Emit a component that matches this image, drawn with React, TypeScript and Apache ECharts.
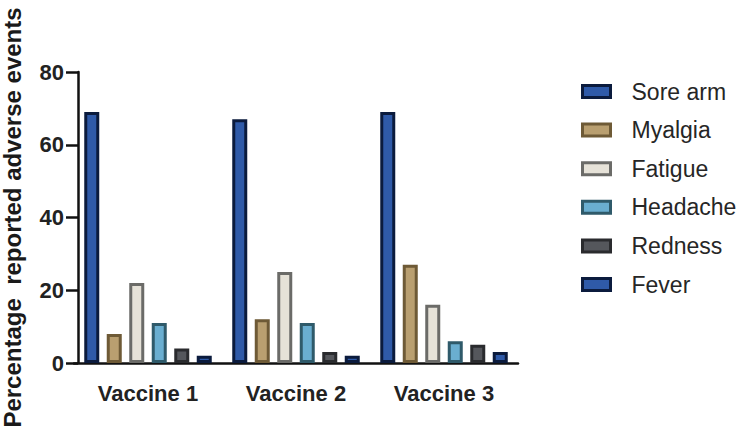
import React, { useEffect, useRef } from "react";
import * as echarts from "echarts";

const categories = ["Vaccine 1", "Vaccine 2", "Vaccine 3"];
const seriesNames = ["Sore arm", "Myalgia", "Fatigue", "Headache", "Redness", "Fever"];
const soreArm = [69, 67, 69];
const myalgia = [8, 12, 27];
const fatigue = [22, 25, 16];
const headache = [11, 11, 6];
const redness = [4, 3, 5];
const fever = [2, 2, 3];
const yTicks = [0, 20, 40, 60, 80];

const fills = ["#2f5aa8", "#b99f70", "#e6e2d8", "#6aaed0", "#55575c", "#2f5aa8"];
const borders = ["#0b1b3d", "#6e5a36", "#6b6b68", "#2f5a6a", "#2a2b2e", "#0b1b3d"];

const FONT = "'Liberation Sans', Arial, Helvetica, sans-serif";

export default function App() {
  const ref = useRef<HTMLDivElement>(null);
  useEffect(() => {
    if (!ref.current) return;
    const chart = echarts.init(ref.current, undefined, { renderer: "svg" });
    const values = [soreArm, myalgia, fatigue, headache, redness, fever];
    chart.setOption({
      animation: false,
      backgroundColor: "#ffffff",
      grid: {
        left: 74,
        top: 72,
        width: 444,
        height: 291,
        containLabel: false,
        outerBoundsMode: "none",
      },
      legend: {
        orient: "vertical",
        left: 576,
        top: 75,
        itemWidth: 28,
        itemHeight: 12,
        itemGap: 15.6,
        textStyle: {
          fontFamily: FONT,
          fontSize: 23,
          color: "#262626",
          padding: [0, 0, 0, 16],
          lineHeight: 20,
        },
        data: seriesNames.map((n, i) => ({
          name: n,
          icon: "rect",
          itemStyle: { color: fills[i], borderColor: borders[i], borderWidth: 3 },
        })),
      },
      xAxis: {
        type: "category",
        data: categories,
        axisLine: { lineStyle: { color: "#111", width: 2.5 } },
        axisTick: { alignWithLabel: true, length: 11, lineStyle: { color: "#111", width: 2.5 } },
        axisLabel: {
          fontFamily: FONT,
          fontSize: 22,
          fontWeight: "bold",
          color: "#222",
          margin: 19,
        },
      },
      yAxis: {
        type: "value",
        min: yTicks[0],
        max: yTicks[yTicks.length - 1],
        interval: 20,
        offset: -4,
        name: "Percentage  reported adverse events",
        nameLocation: "middle",
        nameGap: 54,
        nameTextStyle: {
          fontFamily: FONT,
          fontSize: 24,
          fontWeight: "bold",
          color: "#1a1a1a",
        },
        splitLine: { show: false },
        axisLine: { show: true, lineStyle: { color: "#111", width: 2.5 } },
        axisTick: { show: true, length: 12, lineStyle: { color: "#111", width: 2.5 } },
        axisLabel: {
          fontFamily: FONT,
          fontSize: 22,
          fontWeight: "bold",
          color: "#222",
          margin: 14,
        },
      },
      series: seriesNames.map((n, i) => ({
        name: n,
        type: "bar",
        data: values[i],
        barWidth: 15,
        barGap: "50%",
        itemStyle: { color: fills[i], borderColor: borders[i], borderWidth: 3 },
      })),
    });
    return () => chart.dispose();
  }, []);
  return <div ref={ref} style={{ width: 742, height: 427, position: "absolute", left: 0, top: 0 }} />;
}
